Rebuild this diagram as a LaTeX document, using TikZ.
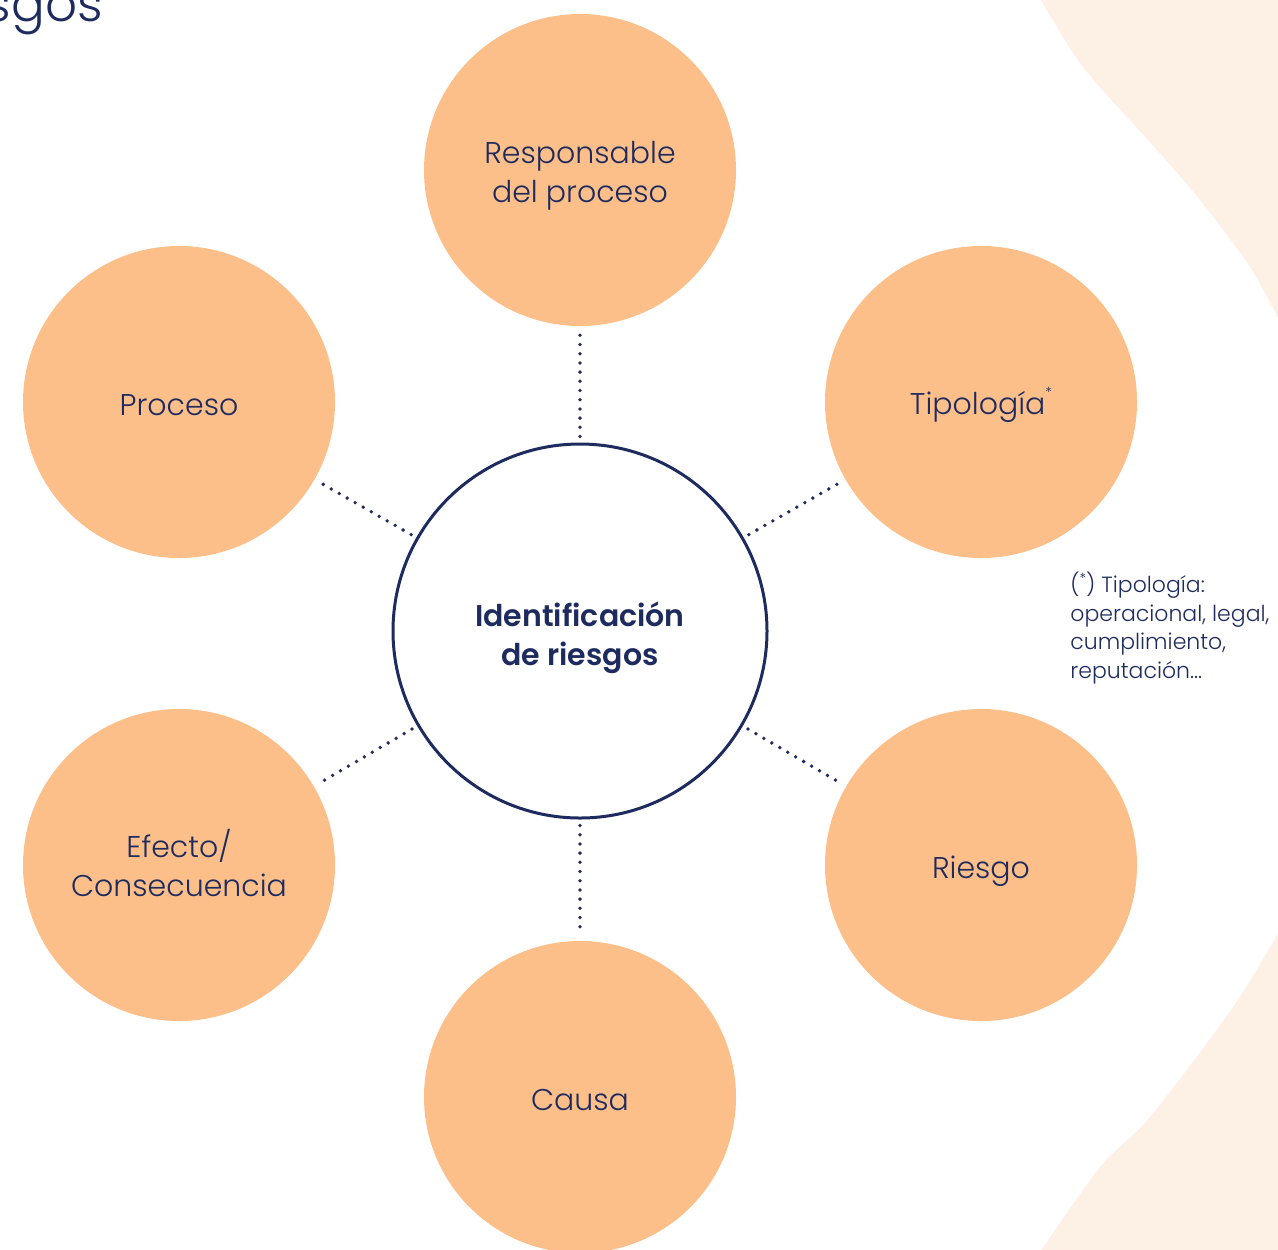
\documentclass[tikz,border=0pt]{standalone}
\usepackage{fontspec}
\setmainfont{Poppins}[UprightFont=* Light, BoldFont=* SemiBold]
\definecolor{orangec}{HTML}{FDBF8A}
\definecolor{navy}{HTML}{1E2B5E}
\definecolor{bgband}{HTML}{FDF0E5}
\newcommand{\smallast}[1]{\raisebox{#1}{\fontsize{7}{7}\selectfont*}}
\begin{document}
\begin{tikzpicture}[x=0.5pt,y=-0.5pt,
  petal/.style={circle,fill=orangec,minimum size=156pt,inner sep=0pt},
  petaltext/.style={align=center,text=navy,inner sep=0pt,font=\fontsize{15}{19.5}\selectfont},
  hub/.style={circle,draw=navy,line width=1.5pt,fill=white,minimum size=187pt,inner sep=0pt},
  hubtext/.style={align=center,text=navy,inner sep=0pt,font=\fontsize{15}{19.5}\selectfont\bfseries},
  dotline/.style={draw=navy,line width=1.9pt,line cap=round,dash pattern=on 0pt off 4.6pt,shorten <=3pt,shorten >=3pt}]
\useasboundingbox (0,0) rectangle (1278,1249);
\clip (0,0) rectangle (1278,1249);
% background bands
\fill[bgband] plot[smooth] coordinates {(1040,-2) (1083,67) (1157,150) (1200,200) (1250,267) (1280,322)} -- (1280,-2) -- cycle;
\fill[bgband] plot[smooth] coordinates {(1280,930) (1233,1007) (1150,1117) (1100,1167) (1040,1252)} -- (1280,1252) -- cycle;
% title fragment
\node[anchor=base east,text=navy,font=\fontsize{25}{30}\selectfont,inner sep=0pt] (title) at (103,21) {sgos};
% nodes
\node[hub,label={[hubtext,yshift=-3.5pt]center:Identificación\\de riesgos}] (c) at (580,631) {};
\node[petal,label={[petaltext,yshift=-3pt]center:Responsable\\del proceso}] (resp) at (580,170) {};
\node[petal,label={[petaltext,yshift=-1.5pt]center:Proceso}] (proc) at (179,402) {};
\node[petal,label={[petaltext,yshift=-1.5pt]center:Tipología\smallast{0.55em}}] (tipo) at (981,402) {};
\node[petal,label={[petaltext,yshift=1pt]center:Efecto/\\Consecuencia}] (efec) at (179,865) {};
\node[petal,label={[petaltext,yshift=-3pt]center:Riesgo}] (ries) at (981,865) {};
\node[petal,label={[petaltext,yshift=-1.5pt]center:Causa}] (caus) at (580,1097) {};
% connectors
\foreach \n in {resp,proc,tipo,efec,ries,caus} \draw[dotline] (c) -- (\n);
% footnote
\node[anchor=north west,align=left,text=navy,inner sep=0pt,font=\fontsize{11}{14.25}\selectfont] (note) at (1070,572)
  {(\smallast{0.45em}) Tipología:\\operacional, legal,\\cumplimiento,\\reputación...};
\end{tikzpicture}
\end{document}
